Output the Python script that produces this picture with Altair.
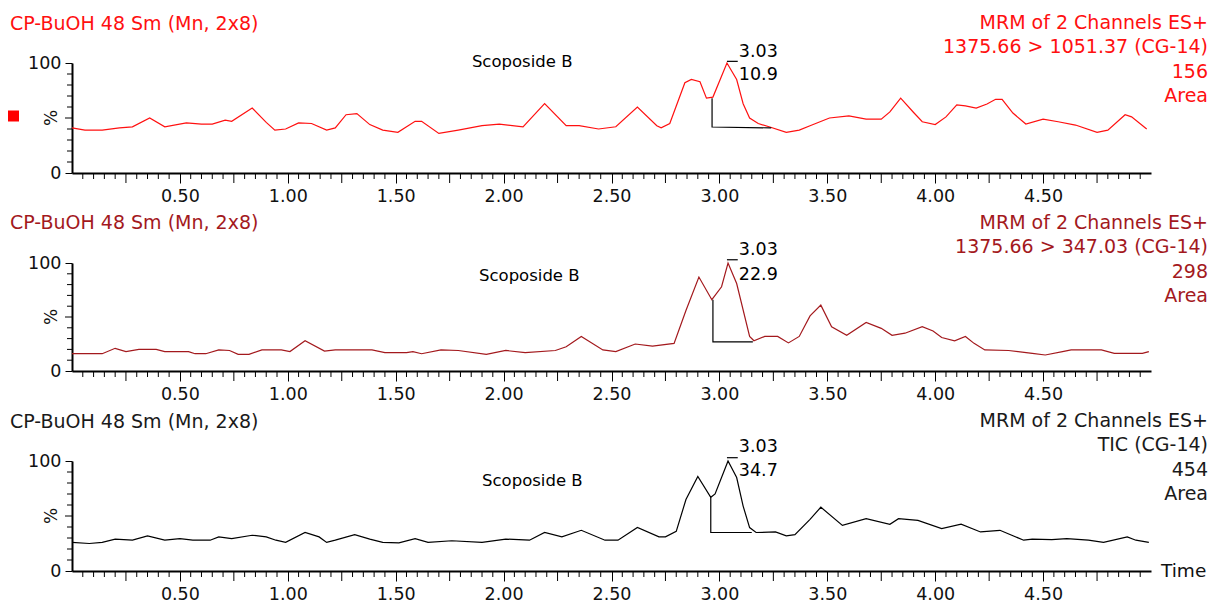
import altair as alt
import pandas as pd

FONT = "DejaVu Sans"
W = 1079
X_DOMAIN = [0.0, 5.0]

# ---- tick positions / labels ----
MAJOR_X = [0.5, 1.0, 1.5, 2.0, 2.5, 3.0, 3.5, 4.0, 4.5]
MID_X = [0.25, 0.75, 1.25, 1.75, 2.25, 2.75, 3.25, 3.75, 4.25, 4.75]
MINOR_X = [0.05, 0.10, 0.15, 0.20, 0.30, 0.35, 0.40, 0.45, 0.55, 0.60, 0.65, 0.70,
           0.80, 0.85, 0.90, 0.95, 1.05, 1.10, 1.15, 1.20, 1.30, 1.35, 1.40, 1.45,
           1.55, 1.60, 1.65, 1.70, 1.80, 1.85, 1.90, 1.95, 2.05, 2.10, 2.15, 2.20,
           2.30, 2.35, 2.40, 2.45, 2.55, 2.60, 2.65, 2.70, 2.80, 2.85, 2.90, 2.95,
           3.05, 3.10, 3.15, 3.20, 3.30, 3.35, 3.40, 3.45, 3.55, 3.60, 3.65, 3.70,
           3.80, 3.85, 3.90, 3.95, 4.05, 4.10, 4.15, 4.20, 4.30, 4.35, 4.40, 4.45,
           4.55, 4.60, 4.65, 4.70, 4.80, 4.85, 4.90, 4.95]
MAJOR_Y = [0, 100]
MID_Y = [50]
MINOR_Y = [10, 20, 30, 40, 60, 70, 80, 90]

# ---- panel 1: 1375.66 > 1051.37 ----
t1 = [0.00, 0.06, 0.14, 0.22, 0.28, 0.36, 0.43, 0.53, 0.60, 0.65, 0.71, 0.74, 0.835, 0.90,
      0.94, 0.99, 1.05, 1.11, 1.18, 1.22, 1.27, 1.32, 1.38, 1.44, 1.51, 1.59, 1.62, 1.70,
      1.79, 1.90, 1.98, 2.09, 2.19, 2.29, 2.35, 2.44, 2.52, 2.62, 2.71, 2.73, 2.77, 2.84,
      2.87, 2.91, 2.94, 2.97, 3.035, 3.08, 3.11, 3.14, 3.18, 3.23, 3.31, 3.37, 3.42, 3.51,
      3.60, 3.68, 3.75, 3.79, 3.84, 3.90, 3.94, 4.00, 4.05, 4.10, 4.14, 4.19, 4.24, 4.28,
      4.31, 4.36, 4.42, 4.50, 4.57, 4.65, 4.75, 4.80, 4.88, 4.91, 4.98]
v1 = [41, 39, 39, 41, 42, 50, 42, 45.6, 44.5, 44.5, 48, 47, 59, 46,
      39, 40, 45.6, 45, 39, 41, 53, 54, 44, 39, 37, 47, 47, 36,
      39, 43, 44.5, 42, 63, 43, 43, 40, 42, 60, 43, 41, 45, 82,
      85, 83, 68, 69, 100, 85, 63, 50, 45, 42, 37, 39, 43, 50,
      52, 49, 49, 55.5, 68, 55, 46.6, 44, 51, 62, 61, 59, 62.7, 67,
      67, 54.5, 44.5, 49, 46.6, 43.6, 37, 39, 53, 51, 40]
base1_t = [2.966, 2.966, 3.24]
base1_v = [68, 41.8, 41]

# ---- panel 2: 1375.66 > 347.03 ----
t2 = [0.00, 0.14, 0.20, 0.25, 0.31, 0.39, 0.43, 0.54, 0.57, 0.62, 0.68, 0.73, 0.77, 0.82,
      0.88, 0.97, 1.01, 1.08, 1.17, 1.22, 1.39, 1.45, 1.55, 1.58, 1.62, 1.71, 1.79, 1.92,
      2.01, 2.10, 2.24, 2.29, 2.36, 2.46, 2.52, 2.61, 2.69, 2.79, 2.845, 2.905, 2.965, 3.01,
      3.04, 3.08, 3.14, 3.16, 3.21, 3.27, 3.32, 3.37, 3.42, 3.47, 3.52, 3.59, 3.68, 3.75,
      3.80, 3.86, 3.94, 3.99, 4.03, 4.09, 4.14, 4.18, 4.23, 4.34, 4.45, 4.51, 4.59, 4.63,
      4.77, 4.83, 4.96, 4.99]
v2 = [16, 16, 21, 18, 20, 20, 18, 18, 16, 16, 19.5, 19, 15.4, 15.4,
      19.5, 19.5, 18, 28, 18.5, 19.5, 19.5, 17, 17, 18, 16, 19.5, 19, 15.4,
      19, 17, 19, 22.5, 32, 19.5, 18, 25, 23, 25.6, 56, 87, 66, 78,
      100, 81, 32, 28, 32, 32, 26, 32, 51, 61, 41, 33, 45, 39.5,
      33, 35, 41, 37, 31, 28, 32, 25.6, 19.5, 19, 16.3, 14.8, 18, 19.5,
      19.5, 16.3, 16.3, 18]
base2_t = [2.97, 2.97, 3.155]
base2_v = [66, 27, 27]

# ---- panel 3: TIC ----
t3 = [0.00, 0.08, 0.14, 0.20, 0.28, 0.35, 0.43, 0.50, 0.56, 0.64, 0.68, 0.74, 0.835, 0.90,
      0.945, 0.99, 1.08, 1.145, 1.18, 1.22, 1.31, 1.38, 1.44, 1.515, 1.59, 1.65, 1.76, 1.90,
      2.01, 2.12, 2.19, 2.27, 2.36, 2.47, 2.53, 2.62, 2.72, 2.75, 2.80, 2.845, 2.90, 2.96,
      2.98, 3.04, 3.08, 3.11, 3.14, 3.17, 3.26, 3.31, 3.35, 3.42, 3.47, 3.57, 3.68, 3.79,
      3.83, 3.92, 4.03, 4.12, 4.21, 4.30, 4.41, 4.45, 4.54, 4.61, 4.71, 4.78, 4.89, 4.93, 4.99]
v3 = [26, 25, 26, 29, 28, 32, 28, 29.5, 28, 28, 31, 29.5, 32.5, 31,
      28, 26, 35, 31, 26, 28, 33, 29, 26, 25.5, 29.5, 26, 27.5, 26,
      29, 28, 35, 31, 37, 28, 28, 39.5, 31, 31, 36, 65, 86, 67,
      70, 100, 85, 59, 39.5, 35, 35.5, 32, 33, 47, 58, 41.5, 47.6, 42.5,
      47.6, 46, 38.5, 42.5, 35.5, 37, 28, 29, 28.5, 29.5, 28, 26, 31, 28, 26]
base3_t = [2.96, 2.96, 3.15]
base3_v = [67, 35, 35]

TITLE = "CP-BuOH 48 Sm (Mn, 2x8)"
RIGHT1 = ["MRM of 2 Channels ES+", "1375.66 > 1051.37 (CG-14)", "156", "Area"]
RIGHT2 = ["MRM of 2 Channels ES+", "1375.66 > 347.03 (CG-14)", "298", "Area"]
RIGHT3 = ["MRM of 2 Channels ES+", "TIC (CG-14)", "454", "Area"]
COMPOUND = "Scoposide B"
RT = "3.03"
AREAS = ["10.9", "22.9", "34.7"]


def panel(times, values, color, text_color, right_lines, height, base_t, base_v,
          apex_v, rt_v, area_v, area_txt, sco_t, sco_v, title_y, square=False, time_label=False):
    xs = alt.Scale(domain=X_DOMAIN, nice=False, zero=False)
    ys = alt.Scale(domain=[0, 100], nice=False, zero=False)
    xax = alt.Axis(values=MAJOR_X, format=".2f", title=None, tickSize=10, labelPadding=4,
                   grid=False, labelFlush=False, labelOverlap=False)
    yax = alt.Axis(values=MAJOR_Y, format="d", title=None, tickSize=7, labelPadding=4,
                   grid=False, labelFlush=False, labelOverlap=False)
    xn = lambda f: alt.X(f, scale=xs, axis=xax, title=None)
    yn = lambda f: alt.Y(f, scale=ys, axis=yax, title=None)

    trace = alt.Chart(pd.DataFrame({"t": times, "v": values})).mark_line(
        color=color, strokeWidth=1.2, interpolate="linear"
    ).encode(x=xn("t:Q"), y=yn("v:Q"))
    layers = [trace]
    layers.append(alt.Chart(pd.DataFrame({"t": MINOR_X})).mark_rule(color="black", strokeWidth=1)
                  .encode(x=xn("t:Q"), y=alt.value(height), y2=alt.value(height + 6)))
    layers.append(alt.Chart(pd.DataFrame({"t": MID_X})).mark_rule(color="black", strokeWidth=1)
                  .encode(x=xn("t:Q"), y=alt.value(height), y2=alt.value(height + 10)))
    layers.append(alt.Chart(pd.DataFrame({"v": MINOR_Y})).mark_rule(color="black", strokeWidth=1)
                  .encode(y=yn("v:Q"), x=alt.value(0), x2=alt.value(-5)))
    layers.append(alt.Chart(pd.DataFrame({"v": MID_Y})).mark_rule(color="black", strokeWidth=1)
                  .encode(y=yn("v:Q"), x=alt.value(0), x2=alt.value(-7)))
    # integration baseline
    layers.append(alt.Chart(pd.DataFrame({"t": base_t, "v": base_v, "i": [0, 1, 2]}))
                  .mark_line(color="black", strokeWidth=1.2)
                  .encode(x=xn("t:Q"), y=yn("v:Q"), order="i:Q"))
    # apex marker
    layers.append(alt.Chart(pd.DataFrame({"t": [3.035], "t2": [3.085], "v": [apex_v]}))
                  .mark_rule(color="black", strokeWidth=1.2)
                  .encode(x=xn("t:Q"), x2="t2:Q", y=yn("v:Q")))
    layers.append(alt.Chart(pd.DataFrame({"t": [3.09, 3.09], "v": [rt_v, area_v], "s": [RT, area_txt]}))
                  .mark_text(align="left", baseline="middle", fontSize=17.5, color="black")
                  .encode(x=xn("t:Q"), y=yn("v:Q"), text="s:N"))
    layers.append(alt.Chart(pd.DataFrame({"t": [sco_t], "v": [sco_v], "s": [COMPOUND]}))
                  .mark_text(align="left", baseline="middle", fontSize=16.5, color="black")
                  .encode(x=xn("t:Q"), y=yn("v:Q"), text="s:N"))
    layers.append(alt.Chart(pd.DataFrame({"v": [50], "s": ["%"]}))
                  .mark_text(angle=270, align="center", baseline="middle", fontSize=17, color="#111")
                  .encode(x=alt.value(-20), y=yn("v:Q"), text="s:N"))
    layers.append(alt.Chart(pd.DataFrame({"s": [TITLE]}))
                  .mark_text(align="left", baseline="middle", fontSize=19, color=text_color)
                  .encode(x=alt.value(-62), y=alt.value(title_y), text="s:N"))
    for k, line in enumerate(right_lines):
        layers.append(alt.Chart(pd.DataFrame({"s": [line]}))
                      .mark_text(align="right", baseline="middle", fontSize=19, color=text_color)
                      .encode(x=alt.value(W + 57), y=alt.value(-40.5 + 24.5 * k), text="s:N"))
    if square:
        layers.append(alt.Chart(pd.DataFrame({"s": ["m"]}))
                      .mark_square(size=121, color="#ff0000", opacity=1)
                      .encode(x=alt.value(-58.5), y=alt.value(53)))
    if time_label:
        layers.append(alt.Chart(pd.DataFrame({"s": ["Time"]}))
                      .mark_text(align="left", baseline="middle", fontSize=18.5, color="#111")
                      .encode(x=alt.value(W + 10), y=alt.value(height), text="s:N"))
    return alt.layer(*layers).properties(width=W, height=height)


RED = "#ff1010"
DARKRED = "#a3191d"
p1 = panel(t1, v1, RED, RED, RIGHT1, 110, base1_t, base1_v, 101.5, 110, 89, AREAS[0],
           1.853, 101, -39, square=True)
p2 = panel(t2, v2, DARKRED, DARKRED, RIGHT2, 108, base2_t, base2_v, 103, 112, 89, AREAS[1],
           1.886, 88, -40)
p3 = panel(t3, v3, "black", "#1a1a1a", RIGHT3, 110, base3_t, base3_v, 103, 112.5, 90.5, AREAS[2],
           1.90, 81.5, -39, time_label=True)

chart = alt.vconcat(p1, p2, p3, spacing=90, bounds="flush").properties(
    padding={"left": 0, "top": 5, "right": 0, "bottom": 0}
).configure(font=FONT).configure_view(stroke=None).configure_axis(
    domainColor="black", domainWidth=2, tickColor="black", tickWidth=1,
    labelColor="#111", labelFontSize=17.5, labelFont=FONT
)

chart.save("out.html", embed_options={"renderer": "svg", "actions": False})
